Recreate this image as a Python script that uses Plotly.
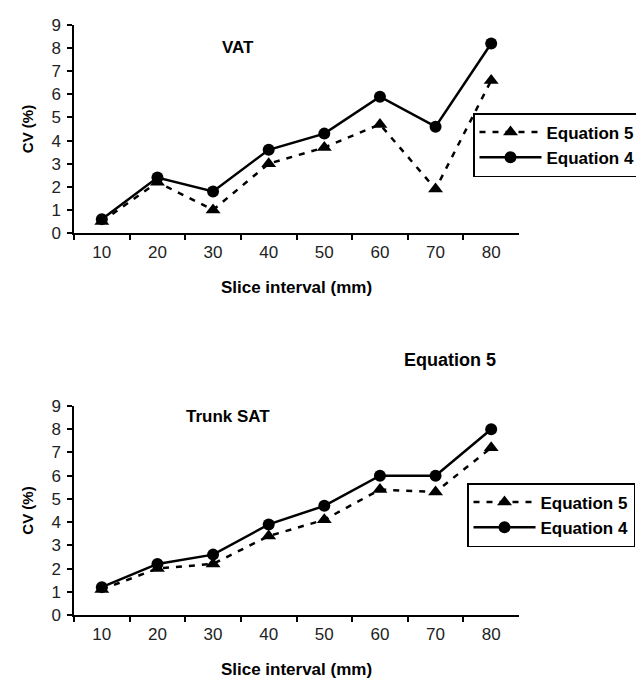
import plotly.graph_objects as go

# ---- data ----
slice_intervals = ["10", "20", "30", "40", "50", "60", "70", "80"]
vat_eq5 = [0.5, 2.2, 1.0, 3.0, 3.7, 4.7, 1.9, 6.6]
vat_eq4 = [0.6, 2.4, 1.8, 3.6, 4.3, 5.9, 4.6, 8.2]
sat_eq5 = [1.1, 2.0, 2.2, 3.4, 4.1, 5.4, 5.3, 7.2]
sat_eq4 = [1.2, 2.2, 2.6, 3.9, 4.7, 6.0, 6.0, 8.0]
y_ticks = list(range(0, 10))

W, H = 644, 690
FONT = "Liberation Sans, Arial, sans-serif"


def fx(p):
    return p / W


def fy(p):
    return 1 - p / H


fig = go.Figure()

panels = [("x", "y", "legend", vat_eq5, vat_eq4), ("x2", "y2", "legend2", sat_eq5, sat_eq4)]
for xa, ya, leg, e5, e4 in panels:
    fig.add_trace(go.Scatter(
        x=slice_intervals, y=e5, name="Equation 5", mode="lines+markers",
        line=dict(color="black", width=2.5, dash="6px,7px"),
        marker=dict(symbol="triangle-up", size=13, color="black"),
        xaxis=xa, yaxis=ya, legend=leg, cliponaxis=False))
    fig.add_trace(go.Scatter(
        x=slice_intervals, y=e4, name="Equation 4", mode="lines+markers",
        line=dict(color="black", width=2.5),
        marker=dict(symbol="circle", size=12, color="black"),
        xaxis=xa, yaxis=ya, legend=leg, cliponaxis=False))

xcommon = dict(
    type="category", range=[-0.5, 7.5], showline=True, linecolor="black", linewidth=1.5,
    ticks="outside", ticklen=5, tickcolor="black", tickwidth=1.5, tickson="boundaries",
    showgrid=False, zeroline=False, tickfont=dict(size=17, color="#222", family=FONT),
    ticklabelstandoff=3,
    title=dict(text="<b>Slice interval (mm)</b>", font=dict(size=17, color="black", family=FONT), standoff=20),
)
ycommon = dict(
    range=[0, 9], tickvals=y_ticks, showline=True, linecolor="black", linewidth=1.5,
    ticks="outside", ticklen=5, tickcolor="black", tickwidth=1.5,
    showgrid=False, zeroline=False, tickfont=dict(size=17, color="#222", family=FONT),
    ticklabelstandoff=3,
    title=dict(text="<b>CV (%)</b>", font=dict(size=15, color="black", family=FONT), standoff=14),
)

legcommon = dict(
    xanchor="left", yanchor="top", bordercolor="black", borderwidth=1.5, bgcolor="white",
    font=dict(size=17, color="black", family=FONT, weight="bold"), itemwidth=62, tracegroupgap=0,
)

fig.update_layout(
    width=W, height=H,
    margin=dict(l=0, r=0, t=0, b=0, autoexpand=False),
    paper_bgcolor="white", plot_bgcolor="white",
    font=dict(family=FONT, color="black"),
    xaxis=dict(domain=[fx(66), fx(511)], anchor="y", **xcommon),
    yaxis=dict(domain=[fy(225), fy(17)], anchor="x", **ycommon),
    xaxis2=dict(domain=[fx(66), fx(511)], anchor="y2", **xcommon),
    yaxis2=dict(domain=[fy(607), fy(398)], anchor="x2", **ycommon),
    legend=dict(x=fx(465), y=fy(105), **legcommon),
    legend2=dict(x=fx(459), y=fy(475), **legcommon),
    showlegend=True,
    annotations=[
        dict(text="<b>VAT</b>", x=fx(230), y=fy(28), xref="paper", yref="paper",
             showarrow=False, font=dict(size=17, family=FONT)),
        dict(text="<b>Trunk SAT</b>", x=fx(220), y=fy(408), xref="paper", yref="paper",
             showarrow=False, font=dict(size=17, family=FONT)),
        dict(text="<b>Equation 5</b>", x=fx(490), y=fy(352), xref="paper", yref="paper",
             showarrow=False, font=dict(size=18, family=FONT)),
    ],
)

fig.write_html("out.html")
